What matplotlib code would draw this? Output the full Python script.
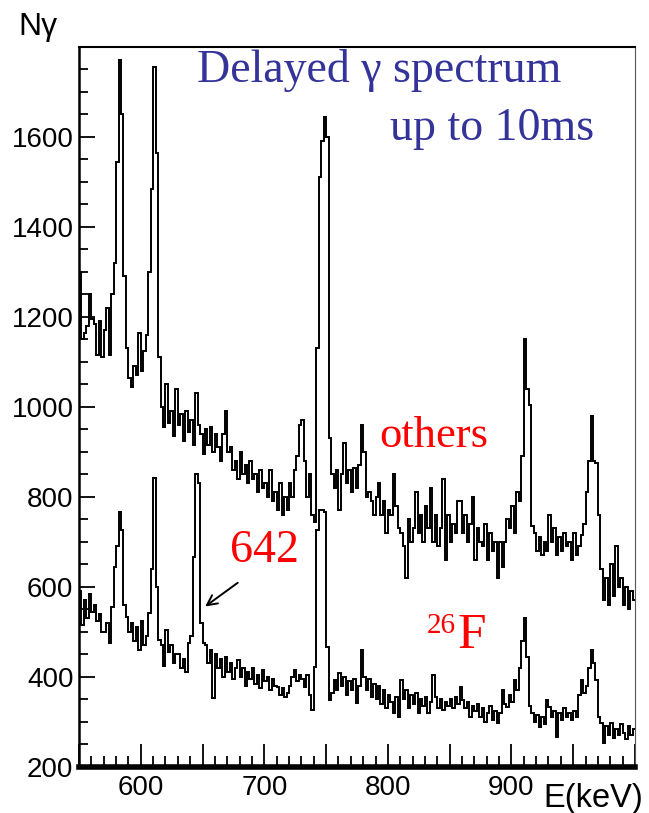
import numpy as np
import matplotlib
matplotlib.use("Agg")
import matplotlib.pyplot as plt
from matplotlib.ticker import MultipleLocator, FuncFormatter

# spectrum binning (keV)
e_start = 550
bin_width = 2

# "others" spectrum, counts per 2 keV bin starting at 550 keV
others = [
    1300, 1150, 1165, 1180, 1250, 1195, 1185, 1115, 1190, 1110,
    1170, 1220, 1115, 1250, 1320, 1545, 1770, 1650, 1290, 1130,
    1065, 1045, 1090, 1070, 1165, 1080, 1125, 1160, 1300, 1485,
    1755, 1565, 1110, 1000, 955, 1050, 965, 990, 935, 1040,
    960, 985, 925, 990, 945, 970, 915, 1030, 960, 940,
    895, 950, 915, 955, 900, 940, 910, 880, 940, 990,
    900, 910, 860, 880, 840, 900, 850, 870, 830, 880,
    840, 850, 810, 860, 820, 830, 800, 860, 790, 810,
    770, 830, 760, 800, 770, 830, 800, 860, 890, 960,
    970, 880, 800, 850, 760, 745, 1130, 1510, 1590, 1645,
    1600, 930, 850, 820, 860, 770, 850, 920, 830, 860,
    810, 865, 820, 870, 960, 900, 800, 810, 790, 760,
    800, 830, 760, 790, 720, 770, 760, 850, 780, 730,
    720, 690, 620, 750, 700, 730, 810, 720, 760, 700,
    780, 730, 820, 700, 760, 690, 730, 840, 660, 760,
    700, 740, 720, 790, 790, 720, 760, 700, 740, 800,
    660, 730, 700, 690, 740, 660, 720, 680, 700, 620,
    700, 645, 700, 750, 730, 780, 720, 810, 790, 890,
    1150, 1040, 1005, 735, 720, 680, 710, 670, 700, 680,
    760, 700, 730, 670, 710, 680, 720, 690, 700, 660,
    720, 670, 690, 715, 740, 810, 880, 980, 880, 875,
    760, 640, 570, 620, 560, 650, 580, 690, 600, 620,
    560, 600, 550, 590, 570,
]

# 26F spectrum, same binning
f26 = [
    590, 515, 570, 530, 585, 545, 560, 525, 540, 500,
    500, 520, 476, 556, 645, 690, 767, 727, 560, 533,
    500, 520, 480, 510, 460, 525, 470, 490, 542, 640,
    842, 600, 482, 470, 425, 505, 455, 470, 430, 450,
    450, 420, 440, 411, 476, 490, 667, 850, 830, 520,
    476, 470, 430, 460, 353, 450, 420, 440, 400, 445,
    410, 430, 395, 420, 438, 400, 420, 380, 410, 395,
    420, 385, 405, 375, 415, 390, 400, 372, 395, 380,
    378, 360, 375, 356, 365, 380, 400, 416, 390, 405,
    395, 378, 405, 360, 327, 422, 727, 771, 771, 767,
    467, 349, 364, 393, 370, 409, 380, 400, 360, 390,
    370, 395, 342, 380, 460, 400, 370, 395, 355, 385,
    350, 380, 340, 370, 330, 360, 345, 320, 355, 311,
    393, 350, 371, 330, 360, 340, 365, 320, 350, 335,
    355, 320, 345, 404, 356, 330, 350, 327, 345, 335,
    350, 330, 355, 340, 378, 349, 330, 345, 310, 335,
    325, 340, 310, 330, 300, 320, 335, 305, 325, 298,
    320, 371, 340, 333, 360, 345, 393, 370, 420, 480,
    530, 445, 335, 320, 300, 315, 289, 310, 295, 349,
    333, 310, 325, 267, 320, 305, 330, 310, 320, 304,
    325, 310, 360, 393, 364, 380, 420, 460, 431, 393,
    311, 298, 253, 290, 270, 298, 265, 285, 270, 295,
    275, 262, 290, 270, 285,
]

edges = e_start + bin_width * np.arange(len(others) + 1)

plt.rcParams["font.family"] = ["Liberation Sans", "DejaVu Sans"]

fig = plt.figure(figsize=(6.49, 8.13), dpi=100)
ax = fig.add_axes([0.1217, 0.0566, 0.8567, 0.8856])

ax.stairs(others, edges, baseline=None, color="black", lw=1.4)
ax.stairs(f26, edges, baseline=None, color="black", lw=1.4)

ax.set_xlim(550, 1000)
ax.set_ylim(200, 1800)

ax.xaxis.set_major_locator(MultipleLocator(50))
ax.xaxis.set_minor_locator(MultipleLocator(10))
ax.yaxis.set_major_locator(MultipleLocator(200))
ax.yaxis.set_minor_locator(MultipleLocator(50))
ax.xaxis.set_major_formatter(
    FuncFormatter(lambda v, p: f"{v:.0f}" if v % 100 == 0 and 550 < v < 1000 else ""))
ax.yaxis.set_major_formatter(
    FuncFormatter(lambda v, p: f"{v:.0f}" if v < 1800 else ""))

ax.tick_params(axis="both", which="both", direction="in", width=1.3,
               labelsize=20, top=False, right=False)
ax.tick_params(axis="x", which="major", length=16.5, pad=6)
ax.tick_params(axis="x", which="minor", length=8)
ax.tick_params(axis="y", which="major", length=11.5, pad=4)
ax.tick_params(axis="y", which="minor", length=6.5)

ax.spines["bottom"].set_linewidth(4)
ax.spines["left"].set_linewidth(1.8)
ax.spines["top"].set_linewidth(1.5)
ax.spines["right"].set_linewidth(0.8)
ax.spines["right"].set_color("#555555")

serif = ["Liberation Serif", "DejaVu Serif"]
blue = "#333399"
ax.text(645.5, 1722, "Delayed γ spectrum", family=serif, fontsize=33,
        color=blue, ha="left", va="baseline")
ax.text(801.6, 1593, "up to 10ms", family=serif, fontsize=33,
        color=blue, ha="left", va="baseline")
ax.text(792.7, 911, "others", family=serif, fontsize=32,
        color="red", ha="left", va="baseline")
ax.text(672.2, 656, "642", family=serif, fontsize=33,
        color="red", ha="left", va="baseline")
ax.text(831.6, 542, "26", family=serif, fontsize=21,
        color="red", ha="left", va="top")
ax.text(856.6, 464, "F", family=serif, fontsize=37,
        color="red", ha="left", va="baseline")

ax.annotate("", xy=(650.3, 553), xytext=(680.3, 613),
            arrowprops=dict(arrowstyle="->", color="black", lw=1.4,
                            mutation_scale=18))

fig.text(0.0277, 0.957, "Nγ", fontsize=23, ha="left", va="baseline")
fig.text(543 / 649, 0.0074, "E(keV)", fontsize=23.5, ha="left", va="baseline")

fig.savefig("out.png", dpi=100)
